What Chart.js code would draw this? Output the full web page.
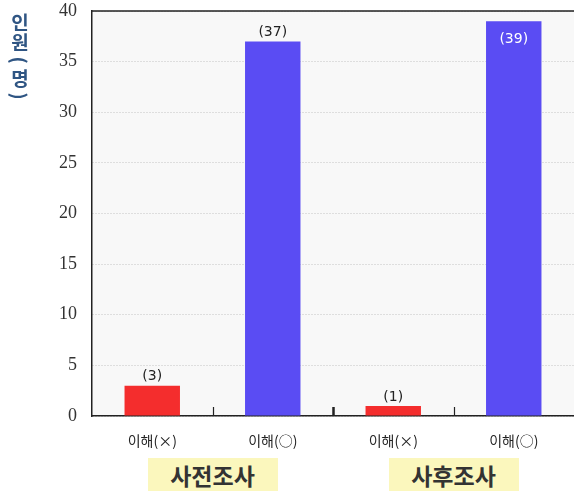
<!DOCTYPE html>
<html>
<head>
<meta charset="utf-8">
<script src="https://cdn.jsdelivr.net/npm/chart.js@4.4.1/dist/chart.umd.min.js"></script>
<style>
  body { margin: 0; background: #fff; }
  #wrap { position: relative; width: 574px; height: 491px; overflow: hidden; }
  #grafik { position: absolute; left: 0; top: 0; }
  #judulY {
    position: absolute; left: 8px; top: 12px; width: 24px; text-align: center;
    font-family: "Noto Sans CJK KR", sans-serif; font-weight: 700;
    font-size: 19px; line-height: 20px; color: #2f5583;
  }
  #judulY div { text-align: center; }
  #judulY .kurung { line-height: 16px; }
  #judulY .putar { display: inline-block; transform: rotate(90deg); }
  .grup {
    position: absolute; top: 458px; width: 130px; height: 40px;
    background: #fbf7bd; text-align: center;
    font-family: "Noto Sans CJK KR", sans-serif; font-weight: 700;
    font-size: 23px; line-height: 34px; color: #333;
  }
</style>
</head>
<body>
<div id="wrap">
  <canvas id="grafik" width="574" height="491"></canvas>
  <div id="judulY">
    <div>인</div><div>원</div>
    <div class="kurung"><span class="putar">(</span></div>
    <div>명</div>
    <div class="kurung"><span class="putar">)</span></div>
  </div>
  <div class="grup" id="grup0"></div>
  <div class="grup" id="grup1"></div>
</div>
<script>
// data
const kategori = ['이해(×)', '이해(○)', '이해(×)', '이해(○)'];
const nilai = [3, 37, 1, 39];
const labelNilai = ['(3)', '(37)', '(1)', '(39)'];
const labelDidalam = [false, false, false, true];
const warnaBatang = ['#f42d2d', '#5a4cf3', '#f42d2d', '#5a4cf3'];
const grup = ['사전조사', '사후조사'];
const yMin = 0, yMax = 40, yStep = 5;

// plugin: latar abu-abu muda + garis atas + tick pemisah
const latarPlot = {
    id: 'latarPlot',
    beforeDraw(chart) {
        const { ctx, chartArea: a } = chart;
        ctx.save();
        ctx.fillStyle = '#f8f8f8';
        ctx.fillRect(a.left, a.top, a.right - a.left, a.bottom - a.top);
        ctx.restore();
    },
    afterDraw(chart) {
        const { ctx, chartArea: a, scales } = chart;
        ctx.save();
        ctx.strokeStyle = '#222';
        ctx.lineWidth = 1.5;
        ctx.beginPath();
        ctx.moveTo(a.left, a.top);
        ctx.lineTo(a.right, a.top);
        ctx.stroke();
        // tick kecil di antara kategori
        for (let i = 0; i < kategori.length - 1; i++) {
            const x = (scales.x.getPixelForValue(i) + scales.x.getPixelForValue(i + 1)) / 2;
            ctx.lineWidth = (i === 1) ? 2.5 : 1.2;
            ctx.beginPath();
            ctx.moveTo(Math.round(x) + 0.5, a.bottom - 9);
            ctx.lineTo(Math.round(x) + 0.5, a.bottom);
            ctx.stroke();
        }
        ctx.restore();
    }
};

// plugin: label nilai di atas / di dalam batang
const labelBatang = {
    id: 'labelBatang',
    afterDatasetsDraw(chart) {
        const { ctx } = chart;
        const meta = chart.getDatasetMeta(0);
        ctx.save();
        ctx.font = '14px "DejaVu Sans", sans-serif';
        ctx.textAlign = 'center';
        meta.data.forEach((bar, i) => {
            if (labelDidalam[i]) {
                ctx.fillStyle = '#ffffff';
                ctx.textBaseline = 'top';
                ctx.fillText(labelNilai[i], bar.x, bar.y + 11);
            } else {
                ctx.fillStyle = '#222';
                ctx.textBaseline = 'bottom';
                ctx.fillText(labelNilai[i], bar.x, bar.y - 2);
            }
        });
        ctx.restore();
    }
};

const chart = new Chart(document.getElementById('grafik'), {
    type: 'bar',
    data: {
        labels: kategori,
        datasets: [{
            data: nilai,
            backgroundColor: warnaBatang,
            borderWidth: 0,
            barPercentage: 0.92,
            categoryPercentage: 0.5
        }]
    },
    options: {
        responsive: false,
        animation: false,
        layout: { padding: { top: 11, right: 0, left: 0, bottom: 0 } },
        plugins: { legend: { display: false }, tooltip: { enabled: false } },
        scales: {
            x: {
                grid: { display: false },
                border: { display: true, color: '#222', width: 1.5 },
                ticks: {
                    color: '#222',
                    padding: 8,
                    font: { family: '"Noto Sans CJK KR", sans-serif', size: 14 }
                },
                afterFit(scale) {
                    scale.height = 75;
                    scale.paddingLeft = 0;
                    scale.paddingRight = 0;
                }
            },
            y: {
                min: yMin,
                max: yMax,
                grid: { color: '#c4c4c4', drawTicks: false, lineWidth: 1 },
                border: { display: true, color: '#222', width: 1.5, dash: [1, 2] },
                ticks: {
                    stepSize: yStep,
                    color: '#333',
                    padding: 15,
                    font: { family: '"Liberation Serif", serif', size: 18 }
                },
                afterFit(scale) {
                    scale.width = 92;
                    scale.paddingTop = 0;
                    scale.paddingBottom = 0;
                }
            }
        }
    },
    plugins: [latarPlot, labelBatang]
});

// label grup di bawah, di tengah dua kategori
grup.forEach((teks, g) => {
    const el = document.getElementById('grup' + g);
    const xs = chart.scales.x;
    const tengah = (xs.getPixelForValue(g * 2) + xs.getPixelForValue(g * 2 + 1)) / 2;
    el.textContent = teks;
    el.style.left = (tengah - 65) + 'px';
});
</script>
</body>
</html>
